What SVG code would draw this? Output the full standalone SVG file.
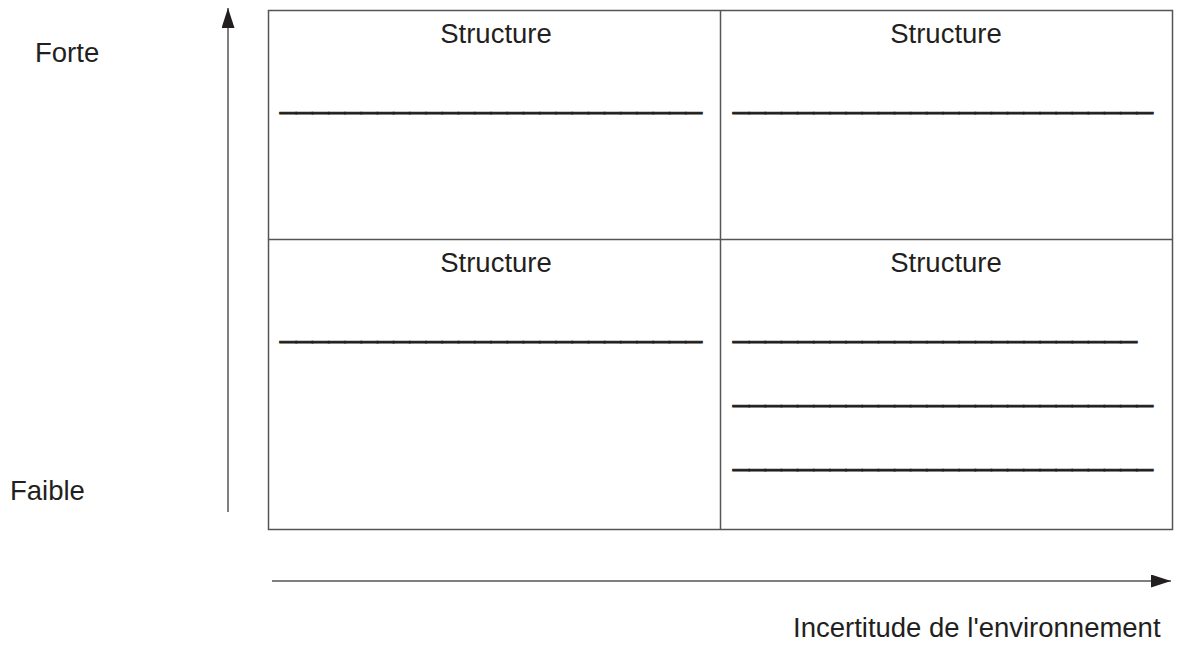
<svg xmlns="http://www.w3.org/2000/svg" width="1189" height="668" viewBox="0 0 1189 668">
<style>
text{font-family:"Liberation Sans",Arial,sans-serif;font-size:27.5px;fill:#231f20}
.mid{text-anchor:middle}
.blank{font-size:28px;fill:#231f20;stroke:#231f20;stroke-width:0.9}
.grid{fill:none;stroke:#555;stroke-width:1.5}
.axis{stroke:#555;stroke-width:1.5;fill:none}
</style>
<defs>
<marker id="ah" viewBox="0 0 20 13" refX="20" refY="6.5" markerWidth="20" markerHeight="13" markerUnits="userSpaceOnUse" orient="auto">
<path d="M0,0 L20,6.5 L0,13 Z" fill="#231f20"/>
</marker>
</defs>
<g id="connectors">
<line class="axis" x1="228" y1="512" x2="228" y2="8" marker-end="url(#ah)"/>
<line class="axis" x1="272" y1="581" x2="1171" y2="581" marker-end="url(#ah)"/>
</g>
<g id="grid">
<rect class="grid" x="268.5" y="10.5" width="904" height="519"/>
<line class="grid" x1="720.5" y1="10.5" x2="720.5" y2="529.5"/>
<line class="grid" x1="268.5" y1="239.5" x2="1172.5" y2="239.5"/>
</g>
<g id="label-forte"><text x="35" y="62">Forte</text></g>
<g id="label-faible"><text x="10" y="500">Faible</text></g>
<g id="label-x"><text x="793" y="637">Incertitude de l'environnement</text></g>
<g id="cell-tl">
<text class="mid" x="496" y="43">Structure</text>
<text class="blank" x="280" y="108" textLength="422" lengthAdjust="spacingAndGlyphs">__________________________</text>
</g>
<g id="cell-tr">
<text class="mid" x="946" y="43">Structure</text>
<text class="blank" x="733" y="108" textLength="420" lengthAdjust="spacingAndGlyphs">__________________________</text>
</g>
<g id="cell-bl">
<text class="mid" x="496" y="272">Structure</text>
<text class="blank" x="280" y="337" textLength="422" lengthAdjust="spacingAndGlyphs">__________________________</text>
</g>
<g id="cell-br">
<text class="mid" x="946" y="272">Structure</text>
<text class="blank" x="733" y="337" textLength="404" lengthAdjust="spacingAndGlyphs">_________________________</text>
<text class="blank" x="733" y="401" textLength="420" lengthAdjust="spacingAndGlyphs">__________________________</text>
<text class="blank" x="733" y="465" textLength="420" lengthAdjust="spacingAndGlyphs">__________________________</text>
</g>
</svg>
